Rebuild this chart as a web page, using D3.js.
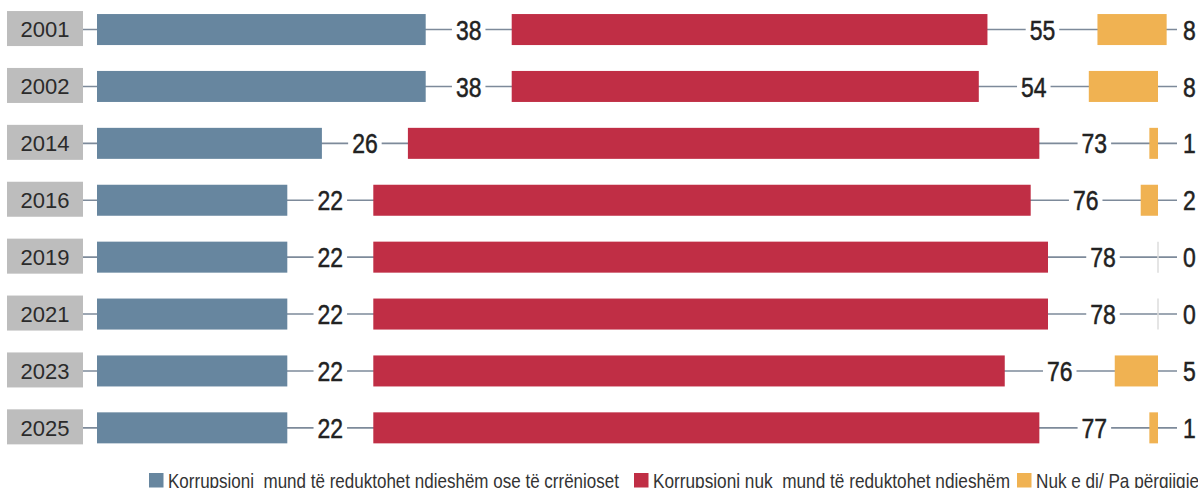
<!DOCTYPE html>
<html>
<head>
<meta charset="utf-8">
<script src="https://cdn.jsdelivr.net/npm/d3@7"></script>
<style>
  body { margin: 0; background: #fff; }
  svg { display: block; }
  .year { font-family: "Liberation Sans", Arial, sans-serif; font-size: 22px; fill: #2b2b2b; }
  .val { font-family: "Liberation Sans", Arial, sans-serif; font-size: 28px; fill: #222; stroke: #222; stroke-width: 0.5px; }
  .legend { font-family: "Liberation Sans", Arial, sans-serif; font-size: 21px; fill: #333; white-space: pre; }
</style>
</head>
<body>
<div id="chart"></div>
<script>
const years = ["2001", "2002", "2014", "2016", "2019", "2021", "2023", "2025"];
// "can be reduced" / "cannot be reduced" / "don't know"
const canReduce = [38, 38, 26, 22, 22, 22, 22, 22];
const cannotReduce = [55, 54, 73, 76, 78, 78, 73, 77]; // bar lengths as drawn
const cannotLabel = ["55", "54", "73", "76", "78", "78", "76", "77"]; // printed values
const dontKnow = [8, 8, 1, 2, 0, 0, 5, 1];
const seriesNames = [
  "Korrupsioni  mund të reduktohet ndjeshëm ose të çrrënjoset",
  "Korrupsioni nuk  mund të reduktohet ndjeshëm",
  "Nuk e di/ Pa përgjigje"
];
const colors = ["#67869f", "#c02e45", "#f0b252"];

const width = 1198, height = 488;
const narrow = 0.82; // no condensed face installed, squeeze horizontally

const svg = d3.select("#chart").append("svg")
  .attr("width", width)
  .attr("height", height);

const y = d3.scaleBand()
  .domain(years)
  .range([1.1, 1.1 + 8 * 56.9])
  .paddingInner(0.455)
  .paddingOuter(0.2275);

const x = d3.scaleLinear().domain([0, 100]).range([0, 865]);

const barStart = 97, gap1 = 86, gap2 = 110, lastLabelX = 1183;

const rows = years.map(function(yr, i) {
  let b0 = barStart, b1 = b0 + x(canReduce[i]);
  let r0 = b1 + gap1, r1 = r0 + x(cannotReduce[i]);
  let o0 = r1 + gap2, o1 = o0 + x(dontKnow[i]);
  return { year: yr, i: i, b0: b0, b1: b1, r0: r0, r1: r1, o0: o0, o1: o1 };
});

const g = svg.selectAll("g.row")
  .data(rows)
  .enter()
  .append("g")
  .attr("class", "row")
  .attr("transform", d => "translate(0," + y(d.year) + ")");

const bh = y.bandwidth();
const cy = bh / 2;

// connector line behind everything
g.append("line")
  .attr("x1", 83).attr("x2", 1177)
  .attr("y1", cy).attr("y2", cy)
  .attr("stroke", "#7d8a9a")
  .attr("stroke-width", 1.6);

// year boxes
g.append("rect")
  .attr("x", 7).attr("y", -3)
  .attr("width", 76).attr("height", bh + 4)
  .attr("fill", "#bdbdbd");

g.append("text")
  .attr("class", "year")
  .attr("x", 45).attr("y", cy)
  .attr("dy", "0.36em")
  .attr("text-anchor", "middle")
  .text(d => d.year);

// bars
g.append("rect").attr("x", d => d.b0).attr("width", d => d.b1 - d.b0)
  .attr("height", bh).attr("fill", colors[0]);
g.append("rect").attr("x", d => d.r0).attr("width", d => d.r1 - d.r0)
  .attr("height", bh).attr("fill", colors[1]);
g.append("rect").attr("x", d => d.o0).attr("width", d => d.o1 - d.o0)
  .attr("height", bh).attr("fill", colors[2]);

// zero-value marker
g.filter(d => dontKnow[d.i] === 0)
  .append("line")
  .attr("x1", d => d.o0).attr("x2", d => d.o0)
  .attr("y1", 0).attr("y2", bh)
  .attr("stroke", "#dcdcdc").attr("stroke-width", 1.5);

// value labels with white knock-out behind them
function addLabel(xf, txt, anchor) {
  g.each(function(d) {
    let row = d3.select(this);
    let px = typeof xf === "function" ? xf(d) : xf;
    let bg = row.append("rect").attr("fill", "#fff");
    let t = row.append("text")
      .attr("class", "val")
      .attr("transform", "translate(" + px + "," + cy + ") scale(" + narrow + ",1)")
      .attr("dy", "0.36em")
      .attr("text-anchor", anchor)
      .text(txt(d));
    let w = t.node().getComputedTextLength() * narrow;
    let left = anchor === "middle" ? px - w / 2 : px;
    bg.attr("x", left - 4).attr("y", cy - 8)
      .attr("width", w + 8).attr("height", 16);
  });
}

addLabel(d => (d.b1 + d.r0) / 2, d => canReduce[d.i], "middle");
addLabel(d => (d.r1 + d.o0) / 2, d => cannotLabel[d.i], "middle");
addLabel(lastLabelX, d => dontKnow[d.i], "start");

// legend
const legendX = [149, 634, 1017];
const legendW = [451, 357, 163];
const legend = svg.selectAll("g.legend")
  .data(seriesNames)
  .enter()
  .append("g")
  .attr("class", "legend")
  .attr("transform", (d, i) => "translate(" + legendX[i] + ",473)");

legend.append("rect")
  .attr("width", 14.5).attr("height", 14.5)
  .attr("fill", (d, i) => colors[i]);

legend.append("text")
  .attr("class", "legend")
  .attr("x", 19).attr("y", 14.5)
  .attr("textLength", (d, i) => legendW[i])
  .attr("lengthAdjust", "spacingAndGlyphs")
  .text(d => d);
</script>
</body>
</html>
